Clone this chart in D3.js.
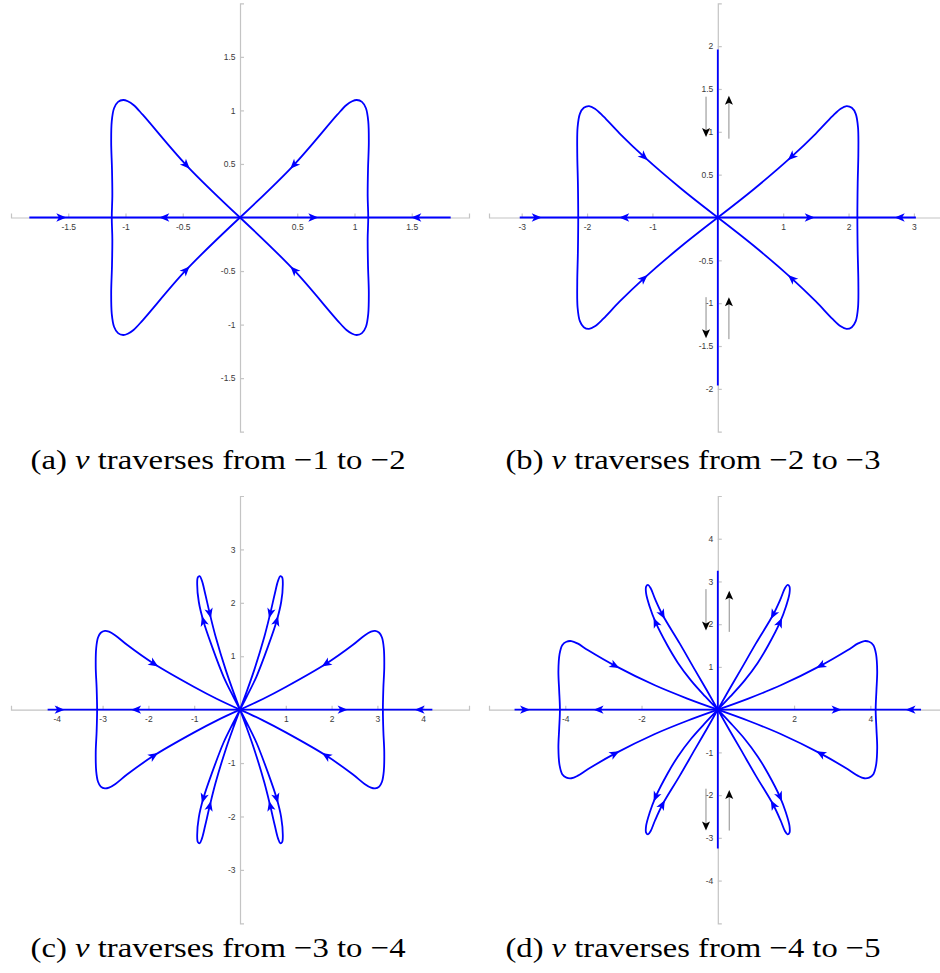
<!DOCTYPE html>
<html>
<head>
<meta charset="utf-8">
<script src="https://cdn.jsdelivr.net/npm/d3@7"></script>
<style>
  body { margin: 0; background: #fff; }
  svg { display: block; }
  .axis path, .axis line { stroke: #c4c4c4; stroke-width: 1.2; }
  .axis text { font-family: "Liberation Sans", Arial, sans-serif; font-size: 8.5px; fill: #3a3a3a; }
  .caption { font-family: "Liberation Serif", "DejaVu Serif", serif; font-size: 28px; fill: #000; }
</style>
</head>
<body>
<svg id="chart" width="940" height="973"></svg>
<script>
// ---- (a) nu traverses from -1 to -2
const aXDomain = [-2, 2], aYDomain = [-2, 2];
const aXTicks = [-1.5, -1, -0.5, 0.5, 1, 1.5];
const aYTicks = [-1.5, -1, -0.5, 0.5, 1, 1.5];
const aReal = [-1.84, 1.84];
const aRealArrows = [[-1.56, -1], [-0.66, 1], [0.64, 1], [1.54, -1]];   // [x, +1 away from / -1 toward origin]
const aLoop = [[0, 0], [0.47, 0.49], [0.85, 0.96], [0.93, 1.05], [0.98, 1.085], [1.02, 1.097], [1.065, 1.08],
               [1.1, 1.02], [1.12, 0.9], [1.125, 0.7], [1.118, 0.45], [1.115, 0.2], [1.12, 0]];
const aLoopArrow = [0.47, 0.49, -1];

// ---- (b) nu traverses from -2 to -3
const bXDomain = [-3.5, 3.5], bYDomain = [-2.5, 2.5];
const bXTicks = [-3, -2, -1, 1, 2, 3];
const bYTicks = [-2, -1.5, -1, -0.5, 0.5, 1, 1.5, 2];
const bReal = [-3.03, 3.03];
const bRealArrows = [[-2.77, -1], [-1.43, 1], [1.41, 1], [2.78, -1]];
const bImag = [-1.96, 1.96];
const bLoop = [[0, 0], [0.55, 0.33], [1.13, 0.71], [1.5, 0.98], [1.75, 1.18], [1.88, 1.27], [1.97, 1.3],
               [2.05, 1.28], [2.11, 1.21], [2.145, 1.05], [2.15, 0.75], [2.14, 0.4], [2.135, 0]];
const bLoopArrow = [1.13, 0.71, -1];
const bImagArrows = [[-0.18, 1.41, 0.94], [0.17, 0.92, 1.42], [-0.18, -0.93, -1.41], [0.17, -1.42, -0.93]];

// ---- (c) nu traverses from -3 to -4
const cXDomain = [-5, 5], cYDomain = [-4, 4];
const cXTicks = [-4, -3, -2, -1, 1, 2, 3, 4];
const cYTicks = [-3, -2, -1, 1, 2, 3];
const cReal = [-4.2, 4.2];
const cRealArrows = [[-3.94, -1], [-2.27, 1], [2.24, 1], [3.92, -1]];
const cLoop = [[0, 0], [0.5, 0.2], [1.0, 0.425], [1.88, 0.86], [2.46, 1.21], [2.72, 1.39], [2.86, 1.46],
               [2.95, 1.475], [3.04, 1.44], [3.1, 1.35], [3.14, 1.15], [3.15, 0.8], [3.13, 0.4], [3.12, 0]];
const cLoopArrow = [1.88, 0.86, -1];
const cPetal = [[0, 0], [0.13, 0.3], [0.31, 0.74], [0.53, 1.36], [0.66, 1.8], [0.76, 2.17], [0.83, 2.41],
                [0.88, 2.5], [0.92, 2.48], [0.935, 2.35], [0.9, 2.02], [0.8, 1.66], [0.61, 1.18],
                [0.36, 0.62], [0.15, 0.25], [0, 0]];
const cPetalArrows = [[0.66, 1.8, -1], [0.8, 1.66, 1]];

// ---- (d) nu traverses from -4 to -5
const dXDomain = [-6, 6], dYDomain = [-5, 5];
const dXTicks = [-4, -2, 2, 4];
const dYTicks = [-4, -3, -2, -1, 1, 2, 3, 4];
const dReal = [-5.33, 5.33];
const dRealArrows = [[-5.06, -1], [-3.13, 1], [3.12, 1], [5.05, -1]];
const dImag = [-3.25, 3.25];
const dLoop = [[0, 0], [0.8, 0.26], [1.65, 0.57], [2.7, 1.03], [3.4, 1.39], [3.68, 1.55], [3.84, 1.605],
               [3.97, 1.59], [4.08, 1.51], [4.15, 1.3], [4.18, 0.9], [4.16, 0.45], [4.14, 0]];
const dLoopArrow = [2.7, 1.03, -1];
const dPetal = [[0, 0], [0.3, 0.47], [0.6, 0.93], [1.0, 1.55], [1.45, 2.22], [1.65, 2.6], [1.76, 2.84],
                [1.83, 2.92], [1.88, 2.88], [1.88, 2.72], [1.79, 2.42], [1.63, 2.04], [1.32, 1.5],
                [1.05, 1.1], [0.7, 0.68], [0.33, 0.31], [0, 0]];
const dPetalArrows = [[1.45, 2.22, -1], [1.63, 2.04, 1]];
const dImagArrows = [[-0.31, 2.82, 1.85], [0.30, 1.82, 2.78], [-0.31, -1.85, -2.83], [0.30, -2.83, -1.88]];

const captions = [
    ['(a) ', 'ν', ' traverses from −1 to −2'],
    ['(b) ', 'ν', ' traverses from −2 to −3'],
    ['(c) ', 'ν', ' traverses from −3 to −4'],
    ['(d) ', 'ν', ' traverses from −4 to −5']
];

const BLUE = '#0000ff';
const HEAD = 'M0,0 L-10,-4.2 L-7.4,0 L-10,4.2 Z';
const BLACK_HEAD = 'M0,0 L-9,-4 L-7,0 L-9,4 Z';
const svg = d3.select('#chart');

const quadrants = [[1, 1], [1, -1], [-1, 1], [-1, -1]];

// close a quarter loop (origin -> real axis) into a full loop on one side
function fullLoop(q, sx) {
    const pts = q.concat(q.slice(0, -1).reverse().map(([px, py]) => [px, -py]));
    return pts.map(([px, py]) => [sx * px, py]);
}

function drawPanel(opts) {
    const g = svg.append('g');
    const x = d3.scaleLinear().domain(opts.xDomain).range(opts.xRange);
    const y = d3.scaleLinear().domain(opts.yDomain).range(opts.yRange);

    g.append('g').attr('class', 'axis')
        .attr('transform', `translate(0,${y(0)})`)
        .call(d3.axisBottom(x).tickValues(opts.xTicks).tickSize(-4).tickSizeOuter(-4)
            .tickPadding(6).tickFormat(d => String(d)));
    g.append('g').attr('class', 'axis')
        .attr('transform', `translate(${x(0)},0)`)
        .call(d3.axisLeft(y).tickValues(opts.yTicks).tickSize(-4).tickSizeOuter(-4)
            .tickPadding(4.5).tickFormat(d => String(d)));

    const smooth = d3.line().x(d => x(d[0])).y(d => y(d[1])).curve(d3.curveCatmullRom.alpha(0.5));
    const straight = d3.line().x(d => x(d[0])).y(d => y(d[1]));

    // curves: {pts, curved, arrows: [[x, y, dir]]}
    const curves = [];
    curves.push({
        pts: [[opts.real[0], 0], [opts.real[1], 0]], curved: false,
        arrows: opts.realArrows.map(([ax, dir]) => [ax, 0, dir])
    });
    if (opts.imag) {
        curves.push({ pts: [[0, opts.imag[0]], [0, opts.imag[1]]], curved: false, arrows: [] });
    }
    [1, -1].forEach(sx => {
        curves.push({
            pts: fullLoop(opts.loop, sx), curved: true,
            arrows: [1, -1].map(sy => [sx * opts.loopArrow[0], sy * opts.loopArrow[1], opts.loopArrow[2]])
        });
    });
    if (opts.petal) {
        quadrants.forEach(([sx, sy]) => {
            curves.push({
                pts: opts.petal.map(([px, py]) => [sx * px, sy * py]), curved: true,
                arrows: opts.petalArrows.map(([px, py, dir]) => [sx * px, sy * py, dir])
            });
        });
    }

    curves.forEach(c => {
        const path = g.append('path')
            .attr('d', (c.curved ? smooth : straight)(c.pts))
            .attr('fill', 'none')
            .attr('stroke', BLUE)
            .attr('stroke-width', 1.8)
            .attr('stroke-linejoin', 'round');
        c.arrows.forEach(a => addArrow(g, path.node(), a, x, y));
    });

    if (opts.imagArrows) {
        opts.imagArrows.forEach(([ax, y0, y1]) => {
            const dirSign = y(y1) > y(y0) ? 1 : -1;
            g.append('line')
                .attr('x1', x(ax)).attr('x2', x(ax))
                .attr('y1', y(y0)).attr('y2', y(y1) - dirSign * 7)
                .attr('stroke', '#8c8c8c').attr('stroke-width', 1);
            g.append('path').attr('d', BLACK_HEAD).attr('fill', '#000')
                .attr('transform', `translate(${x(ax)},${y(y1)}) rotate(${dirSign > 0 ? 90 : -90})`);
        });
    }

    const cap = svg.append('text').attr('class', 'caption')
        .attr('x', opts.capX).attr('y', opts.capY).attr('text-anchor', 'middle')
        .attr('textLength', 375).attr('lengthAdjust', 'spacingAndGlyphs');
    cap.append('tspan').text(opts.caption[0]);
    cap.append('tspan').attr('font-style', 'italic').text(opts.caption[1]);
    cap.append('tspan').text(opts.caption[2]);
}

function addArrow(g, node, a, x, y) {
    const L = node.getTotalLength();
    const tx0 = x(a[0]), ty0 = y(a[1]);
    let best = 0, bd = Infinity;
    for (let s = 0; s <= L; s += 0.5) {
        const q = node.getPointAtLength(s);
        const d = (q.x - tx0) ** 2 + (q.y - ty0) ** 2;
        if (d < bd) { bd = d; best = s; }
    }
    const p0 = node.getPointAtLength(Math.max(0, best - 2));
    const p1 = node.getPointAtLength(Math.min(L, best + 2));
    let vx = p1.x - p0.x, vy = p1.y - p0.y;
    const rx = tx0 - x(0), ry = ty0 - y(0);
    if ((vx * rx + vy * ry) * a[2] < 0) { vx = -vx; vy = -vy; }
    const ang = Math.atan2(vy, vx) * 180 / Math.PI;
    const c = node.getPointAtLength(best);
    g.append('path').attr('d', HEAD).attr('fill', BLUE)
        .attr('transform', `translate(${c.x},${c.y}) rotate(${ang}) translate(5,0)`);
}

const topY = [431.7, 3.3], botY = [923.3, 496];
const leftX = [11, 469], rightX = [489, 946.6];

drawPanel({ xDomain: aXDomain, yDomain: aYDomain, xRange: leftX, yRange: topY,
    xTicks: aXTicks, yTicks: aYTicks, real: aReal, realArrows: aRealArrows,
    loop: aLoop, loopArrow: aLoopArrow, caption: captions[0], capX: 218, capY: 469 });
drawPanel({ xDomain: bXDomain, yDomain: bYDomain, xRange: rightX, yRange: topY,
    xTicks: bXTicks, yTicks: bYTicks, real: bReal, realArrows: bRealArrows, imag: bImag,
    loop: bLoop, loopArrow: bLoopArrow, imagArrows: bImagArrows, caption: captions[1], capX: 693, capY: 469 });
drawPanel({ xDomain: cXDomain, yDomain: cYDomain, xRange: leftX, yRange: botY,
    xTicks: cXTicks, yTicks: cYTicks, real: cReal, realArrows: cRealArrows,
    loop: cLoop, loopArrow: cLoopArrow, petal: cPetal, petalArrows: cPetalArrows,
    caption: captions[2], capX: 218, capY: 957 });
drawPanel({ xDomain: dXDomain, yDomain: dYDomain, xRange: rightX, yRange: botY,
    xTicks: dXTicks, yTicks: dYTicks, real: dReal, realArrows: dRealArrows, imag: dImag,
    loop: dLoop, loopArrow: dLoopArrow, petal: dPetal, petalArrows: dPetalArrows,
    imagArrows: dImagArrows, caption: captions[3], capX: 693, capY: 957 });
</script>
</body>
</html>
